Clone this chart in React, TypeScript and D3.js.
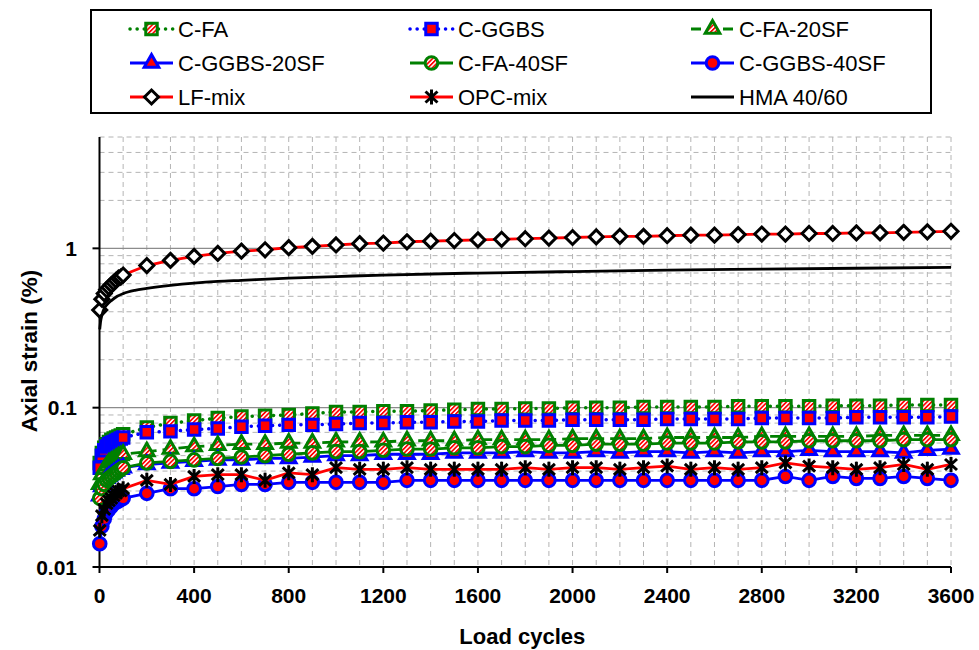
import React, { useEffect, useRef } from 'react';
import * as d3 from 'd3';

// Load cycles at which every mix was measured
const cycles = [
  1, 10, 20, 30, 40, 50, 60, 70, 80, 90, 100,
  200, 300, 400, 500, 600, 700, 800, 900, 1000, 1100, 1200, 1300, 1400, 1500,
  1600, 1700, 1800, 1900, 2000, 2100, 2200, 2300, 2400, 2500, 2600, 2700, 2800,
  2900, 3000, 3100, 3200, 3300, 3400, 3500, 3600,
];

// Axial strain (%) per mix
const cFA = [
  0.045, 0.052, 0.056, 0.059, 0.061, 0.063, 0.064, 0.065, 0.066, 0.067, 0.068,
  0.075, 0.080, 0.083, 0.086, 0.088, 0.089, 0.090, 0.092, 0.094, 0.094, 0.095, 0.095, 0.096, 0.097,
  0.098, 0.098, 0.099, 0.099, 0.100, 0.100, 0.100, 0.101, 0.101, 0.101, 0.101, 0.102, 0.102,
  0.102, 0.102, 0.103, 0.103, 0.103, 0.104, 0.104, 0.104,
];
const cGGBS = [
  0.042, 0.050, 0.054, 0.057, 0.059, 0.060, 0.061, 0.062, 0.063, 0.064, 0.065,
  0.070, 0.071, 0.073, 0.074, 0.076, 0.077, 0.078, 0.078, 0.079, 0.080, 0.080, 0.081, 0.081, 0.082,
  0.082, 0.083, 0.083, 0.083, 0.084, 0.084, 0.084, 0.084, 0.085, 0.085, 0.085, 0.085, 0.086,
  0.086, 0.086, 0.086, 0.087, 0.087, 0.087, 0.087, 0.088,
];
const cFA20SF = [
  0.033, 0.038, 0.041, 0.043, 0.045, 0.046, 0.047, 0.048, 0.049, 0.050, 0.051,
  0.053, 0.055, 0.057, 0.058, 0.059, 0.059, 0.060, 0.060, 0.061, 0.061, 0.061, 0.062, 0.062, 0.062,
  0.063, 0.063, 0.063, 0.063, 0.064, 0.064, 0.064, 0.064, 0.065, 0.065, 0.065, 0.065, 0.066,
  0.066, 0.066, 0.066, 0.066, 0.067, 0.067, 0.067, 0.067,
];
const cGGBS20SF = [
  0.028, 0.032, 0.034, 0.036, 0.037, 0.038, 0.039, 0.040, 0.041, 0.041, 0.042,
  0.044, 0.045, 0.046, 0.047, 0.047, 0.048, 0.048, 0.049, 0.050, 0.050, 0.051, 0.051, 0.051, 0.052,
  0.052, 0.052, 0.053, 0.052, 0.052, 0.053, 0.052, 0.053, 0.053, 0.052, 0.053, 0.052, 0.053,
  0.053, 0.054, 0.053, 0.053, 0.053, 0.052, 0.054, 0.055,
];
const cFA40SF = [
  0.027, 0.031, 0.033, 0.035, 0.036, 0.037, 0.038, 0.039, 0.040, 0.041, 0.042,
  0.045, 0.046, 0.047, 0.048, 0.049, 0.050, 0.051, 0.052, 0.053, 0.053, 0.054, 0.055, 0.055, 0.056,
  0.056, 0.057, 0.057, 0.058, 0.058, 0.059, 0.059, 0.059, 0.060, 0.060, 0.060, 0.061, 0.061,
  0.061, 0.062, 0.062, 0.062, 0.062, 0.063, 0.063, 0.063,
];
const cGGBS40SF = [
  0.014, 0.018, 0.020, 0.022, 0.023, 0.024, 0.025, 0.0255, 0.026, 0.0265, 0.027,
  0.029, 0.031, 0.031, 0.032, 0.033, 0.033, 0.034, 0.034, 0.034, 0.034, 0.034, 0.035, 0.035, 0.035,
  0.035, 0.035, 0.035, 0.035, 0.035, 0.035, 0.035, 0.035, 0.035, 0.035, 0.035, 0.035, 0.035,
  0.037, 0.035, 0.037, 0.036, 0.036, 0.037, 0.036, 0.035,
];
const lfMix = [
  0.41, 0.48, 0.52, 0.55, 0.57, 0.59, 0.61, 0.63, 0.65, 0.66, 0.68,
  0.78, 0.84, 0.89, 0.93, 0.96, 0.98, 1.01, 1.03, 1.05, 1.07, 1.08, 1.10, 1.11, 1.12,
  1.13, 1.14, 1.15, 1.16, 1.17, 1.18, 1.19, 1.19, 1.20, 1.21, 1.21, 1.22, 1.23,
  1.23, 1.24, 1.24, 1.25, 1.25, 1.26, 1.27, 1.28,
];
const opcMix = [
  0.017, 0.021, 0.023, 0.025, 0.026, 0.027, 0.028, 0.029, 0.030, 0.030, 0.031,
  0.035, 0.033, 0.037, 0.038, 0.038, 0.035, 0.039, 0.038, 0.042, 0.041, 0.041, 0.042, 0.041, 0.041,
  0.041, 0.041, 0.042, 0.041, 0.042, 0.042, 0.041, 0.042, 0.043, 0.041, 0.042, 0.041, 0.042,
  0.045, 0.043, 0.042, 0.041, 0.042, 0.044, 0.041, 0.044,
];

// HMA 40/60 is a continuous curve
const hmaCycles = [1, 5, 10, 20, 30, 50, 75, 100, 150, 200, 300, 400, 500, 600, 800, 1000, 1200, 1600, 2000, 2400, 2800, 3200, 3600];
const hma = [0.31, 0.35, 0.38, 0.42, 0.44, 0.47, 0.50, 0.52, 0.545, 0.56, 0.585, 0.605, 0.62, 0.63, 0.65, 0.665, 0.68, 0.70, 0.715, 0.73, 0.74, 0.75, 0.76];

const xTicks = [0, 400, 800, 1200, 1600, 2000, 2400, 2800, 3200, 3600];
const yTicks = [0.01, 0.1, 1];
const yTickLabels = ['0.01', '0.1', '1'];

const GREEN = '#008000';
const BLUE = '#0000ff';
const RED = '#ff0000';

const series = [
  { name: 'C-FA', values: cFA, line: GREEN, dash: 'dot', marker: 'square', fill: 'url(#hatch)', edge: GREEN },
  { name: 'C-GGBS', values: cGGBS, line: BLUE, dash: 'dot', marker: 'square', fill: RED, edge: BLUE },
  { name: 'C-FA-20SF', values: cFA20SF, line: GREEN, dash: 'dash', marker: 'triangle', fill: 'url(#hatch)', edge: GREEN },
  { name: 'C-GGBS-20SF', values: cGGBS20SF, line: BLUE, dash: null, marker: 'triangle', fill: RED, edge: BLUE },
  { name: 'C-FA-40SF', values: cFA40SF, line: GREEN, dash: null, marker: 'circle', fill: 'url(#hatch)', edge: GREEN },
  { name: 'C-GGBS-40SF', values: cGGBS40SF, line: BLUE, dash: null, marker: 'circle', fill: RED, edge: BLUE },
  { name: 'LF-mix', values: lfMix, line: RED, dash: null, marker: 'diamond', fill: '#fff', edge: '#000' },
  { name: 'OPC-mix', values: opcMix, line: RED, dash: null, marker: 'asterisk', fill: 'none', edge: '#000' },
];

const FONT = '"Liberation Sans", Arial, sans-serif';

const markerPath = (type) => {
  if (type === 'square') return d3.symbol(d3.symbolSquare, 132)();
  if (type === 'triangle') return d3.symbol(d3.symbolTriangle, 92)();
  if (type === 'circle') return d3.symbol(d3.symbolCircle, 125)();
  if (type === 'diamond') return 'M0,-7L7,0L0,7L-7,0Z';
  // asterisk: vertical bar plus an X
  return 'M0,-7.5V7.5M-6,-5.5L6,5.5M-6,5.5L6,-5.5';
};

const drawMarker = (g, s, cx, cy) => {
  g.append('path')
    .attr('d', markerPath(s.marker))
    .attr('transform', `translate(${cx},${cy})`)
    .attr('fill', s.fill)
    .attr('stroke', s.edge)
    .attr('stroke-width', 3);
};

const styleLine = (sel, s) => {
  sel.attr('fill', 'none').attr('stroke', s.line);
  if (s.dash === 'dot') {
    sel.attr('stroke-width', 3.5).attr('stroke-dasharray', '0.1 7').attr('stroke-linecap', 'round');
  } else if (s.dash === 'dash') {
    sel.attr('stroke-width', 2.8).attr('stroke-dasharray', '10 6');
  } else {
    sel.attr('stroke-width', 2.8);
  }
};

const App = () => {
  const svgRef = useRef(null);

  useEffect(() => {
    const svg = d3.select(svgRef.current);
    svg.selectAll('*').remove();

    const x = d3.scaleLinear().domain([0, 3600]).range([99.5, 951]);
    const y = d3.scaleLog().domain([0.01, 5]).range([567, 137]);

    const defs = svg.append('defs');
    const pat = defs.append('pattern')
      .attr('id', 'hatch')
      .attr('patternUnits', 'userSpaceOnUse')
      .attr('width', 3.2)
      .attr('height', 3.2)
      .attr('patternTransform', 'rotate(45)');
    pat.append('rect').attr('width', 3.2).attr('height', 3.2).attr('fill', '#fff');
    pat.append('rect').attr('width', 1.7).attr('height', 3.2).attr('fill', RED);

    // grid
    const grid = svg.append('g');
    x.ticks(36).filter(d => d > 0).forEach(d => {
      grid.append('line')
        .attr('x1', x(d)).attr('x2', x(d))
        .attr('y1', y(5)).attr('y2', y(0.01))
        .attr('stroke', '#b4b4b4').attr('stroke-width', 1).attr('stroke-dasharray', '5 4');
    });
    y.ticks().filter(d => d > 0.011).forEach(d => {
      const decade = Math.abs(Math.log10(d) - Math.round(Math.log10(d))) < 1e-6;
      grid.append('line')
        .attr('x1', x(0)).attr('x2', x(3600))
        .attr('y1', y(d)).attr('y2', y(d))
        .attr('stroke', decade ? '#8c8c8c' : '#b4b4b4')
        .attr('stroke-width', decade ? 1.3 : 1)
        .attr('stroke-dasharray', decade ? null : '5 4');
    });

    // axes
    const axes = svg.append('g');
    axes.append('line')
      .attr('x1', x(0)).attr('x2', x(3600)).attr('y1', y(0.01)).attr('y2', y(0.01))
      .attr('stroke', '#000').attr('stroke-width', 2);
    axes.append('line')
      .attr('x1', x(0)).attr('x2', x(0)).attr('y1', y(5)).attr('y2', y(0.01))
      .attr('stroke', '#000').attr('stroke-width', 2);
    xTicks.forEach(d => {
      axes.append('line')
        .attr('x1', x(d)).attr('x2', x(d)).attr('y1', y(0.01)).attr('y2', y(0.01) + 6)
        .attr('stroke', '#000').attr('stroke-width', 2);
      axes.append('text')
        .attr('x', x(d)).attr('y', 603)
        .attr('text-anchor', 'middle')
        .style('font', `bold 21px ${FONT}`)
        .text(d);
    });
    yTicks.forEach((d, i) => {
      axes.append('line')
        .attr('x1', x(0) - 7).attr('x2', x(0)).attr('y1', y(d)).attr('y2', y(d))
        .attr('stroke', '#000').attr('stroke-width', 2);
      axes.append('text')
        .attr('x', 77).attr('y', y(d)).attr('dy', '0.36em')
        .attr('text-anchor', 'end')
        .style('font', `bold 21px ${FONT}`)
        .text(yTickLabels[i]);
    });
    axes.append('text')
      .attr('x', x(1800) - 3).attr('y', 644)
      .attr('text-anchor', 'middle')
      .style('font', `bold 22px ${FONT}`)
      .text('Load cycles');
    axes.append('text')
      .attr('transform', 'translate(37,351) rotate(-90)')
      .attr('text-anchor', 'middle')
      .style('font', `bold 22.5px ${FONT}`)
      .text('Axial strain (%)');

    // series
    const plot = svg.append('g');
    const line = d3.line().x((d, i) => x(cycles[i])).y(d => y(d));
    series.forEach(s => {
      const g = plot.append('g');
      styleLine(g.append('path').attr('d', line(s.values)), s);
      s.values.forEach((v, i) => drawMarker(g, s, x(cycles[i]), y(v)));
    });
    const hmaLine = d3.line().x((d, i) => x(hmaCycles[i])).y(d => y(d)).curve(d3.curveMonotoneX);
    plot.append('path')
      .attr('d', hmaLine(hma))
      .attr('fill', 'none').attr('stroke', '#000').attr('stroke-width', 2.8);

    // legend
    const legend = svg.append('g');
    legend.append('rect')
      .attr('x', 91).attr('y', 10).attr('width', 840).attr('height', 103)
      .attr('fill', '#fff').attr('stroke', '#000').attr('stroke-width', 2);
    const cols = [130, 410, 691];
    const rows = [29, 63, 97];
    const entries = [...series, { name: 'HMA 40/60', line: '#000', dash: null, marker: null }];
    entries.forEach((s, i) => {
      const lx = cols[i % 3];
      const ly = rows[Math.floor(i / 3)];
      const eg = legend.append('g');
      styleLine(eg.append('line').attr('x1', lx).attr('x2', lx + 43).attr('y1', ly).attr('y2', ly), s);
      if (s.marker) drawMarker(eg, s, lx + 21.5, ly);
      eg.append('text')
        .attr('x', lx + 48).attr('y', ly).attr('dy', '0.36em')
        .style('font', `22px ${FONT}`)
        .text(s.name);
    });
  }, []);

  return (
    <svg
      ref={svgRef}
      width={979}
      height={650}
      style={{ position: 'absolute', left: 0, top: 0, background: '#fff' }}
    />
  );
};

export default App;
